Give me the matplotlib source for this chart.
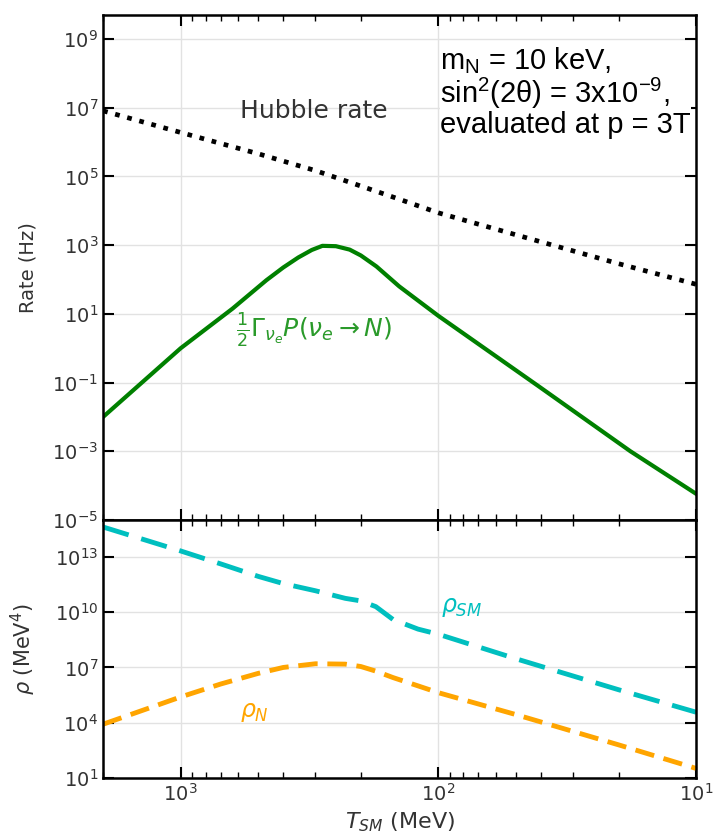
import numpy as np
import matplotlib.pyplot as plt
from matplotlib.ticker import FixedLocator, LogFormatterMathtext, NullLocator, LogLocator

# Hubble rate (Hz) as log10 values
T_hubble = [2000, 1000, 500, 300, 200, 150, 100, 50, 20, 10]
hubble_log = [6.91, 6.28, 5.66, 5.17, 4.72, 4.40, 3.94, 3.30, 2.46, 1.86]

# 1/2 Gamma P(nu_e -> N) (Hz)
T_rate = [2000, 1000, 630, 465, 400, 350, 310, 282, 250, 221, 200, 174, 142, 100, 41, 18, 10]
rate_log = [-2.0, 0.0, 1.15, 1.98, 2.35, 2.64, 2.86, 2.98, 2.97, 2.87, 2.70, 2.38, 1.80, 0.94, -1.10, -3.00, -4.24]

# energy densities (MeV^4)
T_rho = [2000, 1000, 700, 500, 400, 300, 230, 200, 175, 150, 120, 100, 50, 20, 10]
rho_sm_log = [14.62, 13.32, 12.62, 11.94, 11.55, 11.16, 10.75, 10.61, 10.30, 9.60, 9.08, 8.80, 7.47, 5.79, 4.57]
rho_n_log = [3.92, 5.40, 6.10, 6.68, 7.00, 7.20, 7.18, 7.05, 6.80, 6.45, 6.00, 5.63, 4.44, 2.80, 1.52]

txt = '#333333'
plt.rcParams['font.family'] = 'DejaVu Sans'
plt.rcParams['mathtext.fontset'] = 'dejavusans'

fig = plt.figure(figsize=(7.26, 8.34), dpi=100)
ax1 = fig.add_axes([0.142, 0.3765, 0.817, 0.6055])
ax2 = fig.add_axes([0.142, 0.0671, 0.817, 0.3094], sharex=ax1)

ax1.plot(T_hubble, 10 ** np.array(hubble_log), color='black', linestyle=':', linewidth=3.4)
ax1.plot(T_rate, 10 ** np.array(rate_log), color='green', linewidth=3)

ax2.plot(T_rho, 10 ** np.array(rho_sm_log), color='c', linewidth=3.5, dashes=(5.5, 2.7))
ax2.plot(T_rho, 10 ** np.array(rho_n_log), color='orange', linewidth=3.5, dashes=(4.0, 2.0))

for ax in (ax1, ax2):
    ax.set_xscale('log')
    ax.set_yscale('log')
    ax.grid(True, which='major', color='#e2e2e2', linewidth=1)
    ax.set_axisbelow(True)
    ax.tick_params(which='both', direction='in', top=True, right=True, colors='black',
                   labelcolor=txt, labelsize=14)
    ax.tick_params(which='major', length=8, width=1.5)
    ax.tick_params(which='minor', length=4, width=1)
    for s in ax.spines.values():
        s.set_linewidth(1.8)
    ax.yaxis.set_minor_locator(NullLocator())
    ax.yaxis.set_major_formatter(LogFormatterMathtext())
    ax.yaxis.set_label_coords(-0.11, 0.5)

ax1.set_xlim(2000, 10)
ax1.set_ylim(1e-5, 5e9)
ax1.yaxis.set_major_locator(FixedLocator([1e-5, 1e-3, 1e-1, 1e1, 1e3, 1e5, 1e7, 1e9]))
ax1.tick_params(labelbottom=False)
ax1.set_ylabel('Rate (Hz)', fontsize=14, color=txt)

ax2.set_ylim(1e1, 1e15)
ax2.yaxis.set_major_locator(FixedLocator([1e1, 1e4, 1e7, 1e10, 1e13]))
ax2.xaxis.set_major_locator(LogLocator(base=10))
ax2.set_ylabel(r'$\rho$ (MeV$^4$)', fontsize=15, color=txt)
ax2.set_xlabel(r'$T_{SM}$ (MeV)', fontsize=16, color=txt, labelpad=4)

ax1.text(0.356, 0.81, 'Hubble rate', transform=ax1.transAxes, fontsize=18,
         color=txt, ha='center', va='center')
ax1.text(0.356, 0.376, r'$\frac{1}{2}\Gamma_{\nu_e}P(\nu_e\rightarrow N)$',
         transform=ax1.transAxes, fontsize=18, color='#2a9a2a', ha='center', va='center')
ax1.text(0.568, 0.94,
         'm$_\\mathregular{N}$ = 10 keV,\nsin$^\\mathregular{2}$(2θ) = 3x10$^\\mathregular{-9}$,\nevaluated at p = 3T',
         transform=ax1.transAxes, fontsize=21, family='Liberation Sans', color='black',
         ha='left', va='top', linespacing=1.0,
         bbox=dict(facecolor='white', edgecolor='none', pad=0))

ax2.text(0.605, 0.663, r'$\rho_{SM}$', transform=ax2.transAxes, fontsize=17,
         color='c', ha='center', va='center')
ax2.text(0.256, 0.256, r'$\rho_N$', transform=ax2.transAxes, fontsize=17,
         color='orange', ha='center', va='center')

fig.savefig('out.png', dpi=100)
